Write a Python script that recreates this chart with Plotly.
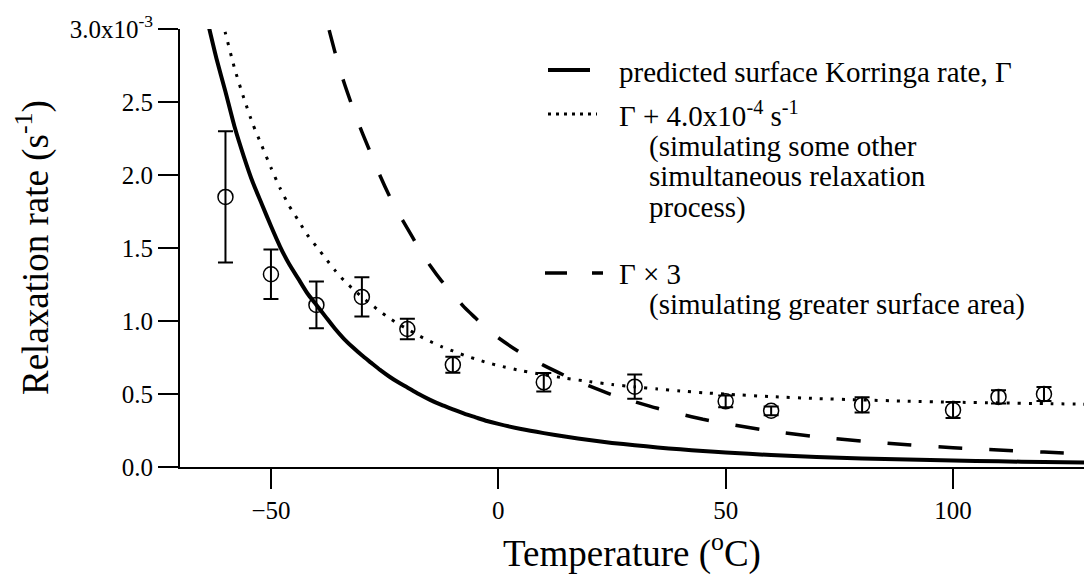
import plotly.graph_objects as go

# ---------------- data (rates in units of 1e-3 s^-1) ----------------
temp_meas = [-60, -50, -40, -30, -20, -10, 10, 30, 50, 60, 80, 100, 110, 120]
rate_meas = [1.85, 1.32, 1.11, 1.165, 0.945, 0.70, 0.58, 0.55, 0.45, 0.385, 0.425, 0.39, 0.48, 0.50]
rate_err = [0.45, 0.17, 0.16, 0.135, 0.07, 0.055, 0.063, 0.083, 0.04, 0.03, 0.052, 0.055, 0.045, 0.048]

temp_gamma = [-64, -62, -60, -58, -56, -54, -52, -50, -48, -46, -44, -42, -40, -38, -36, -34,
              -32, -30, -28, -26, -24, -22, -20, -17.5, -15, -12.5, -10, -7.5, -5, -2.5, 0,
              5, 10, 15, 20, 25, 30, 35, 40, 45, 50, 60, 70, 80, 90, 100, 110, 120, 130]
gamma = [3.06, 2.80, 2.57, 2.33, 2.13, 1.95, 1.80, 1.65, 1.51, 1.39, 1.29, 1.19, 1.11, 1.03,
         0.95, 0.88, 0.82, 0.765, 0.715, 0.665, 0.62, 0.58, 0.545, 0.50, 0.46, 0.425, 0.395,
         0.365, 0.34, 0.315, 0.295, 0.26, 0.232, 0.207, 0.185, 0.165, 0.149, 0.134, 0.121,
         0.109, 0.099, 0.082, 0.069, 0.059, 0.051, 0.044, 0.039, 0.034, 0.030]

temp_plus = [-62, -60, -58, -56, -54, -52, -50, -48, -46, -44, -42, -40, -38, -36, -34, -32,
             -30, -28, -26, -24, -22, -20, -17.5, -15, -12.5, -10, -7.5, -5, -2.5, 0, 5, 10,
             15, 20, 25, 30, 35, 40, 45, 50, 60, 70, 80, 90, 100, 110, 120, 130]
gamma_plus = [3.20, 2.97, 2.73, 2.53, 2.35, 2.20, 2.05, 1.91, 1.79, 1.69, 1.59, 1.51, 1.43,
              1.35, 1.28, 1.22, 1.165, 1.115, 1.065, 1.02, 0.98, 0.945, 0.90, 0.86, 0.825,
              0.795, 0.765, 0.74, 0.715, 0.695, 0.66, 0.632, 0.607, 0.585, 0.565, 0.549,
              0.534, 0.521, 0.509, 0.499, 0.482, 0.469, 0.459, 0.451, 0.444, 0.439, 0.434, 0.43]

temp_times3 = [-40, -38, -36, -34, -32, -30, -28, -26, -24, -22, -20, -17.5, -15, -12.5, -10,
               -7.5, -5, -2.5, 0, 5, 10, 15, 20, 25, 30, 35, 40, 45, 50, 60, 70, 80, 90, 100,
               110, 120, 130]
gamma_times3 = [3.33, 3.09, 2.85, 2.64, 2.46, 2.295, 2.145, 1.995, 1.86, 1.74, 1.635, 1.50,
                1.38, 1.275, 1.185, 1.095, 1.02, 0.945, 0.885, 0.78, 0.696, 0.621, 0.555,
                0.495, 0.447, 0.402, 0.363, 0.327, 0.297, 0.246, 0.207, 0.177, 0.153, 0.132,
                0.117, 0.102, 0.09]

x_ticks = [-50, 0, 50, 100]
y_ticks = [0.0, 0.5, 1.0, 1.5, 2.0, 2.5, 3.0]
y_ticktext = ["0.0", "0.5", "1.0", "1.5", "2.0", "2.5", "3.0x10<sup>-3</sup>"]

# ---------------- layout geometry ----------------
W, H = 1084, 575
ML, MR, MT, MB = 180, 0, 29, 108
PW, PH = W - ML - MR, H - MT - MB
FONT = "Liberation Serif"


def px_x(px):
    return (px - ML) / PW


def px_y(py):
    return (H - MB - py) / PH


fig = go.Figure()

fig.add_trace(go.Scatter(x=temp_gamma, y=gamma, mode="lines", line=dict(color="black", width=4, shape="spline", smoothing=0.6),
                         showlegend=False, hoverinfo="skip"))
fig.add_trace(go.Scatter(x=temp_plus, y=gamma_plus, mode="lines",
                         line=dict(color="black", width=3, dash="3px,8px", shape="spline", smoothing=0.6),
                         showlegend=False, hoverinfo="skip"))
fig.add_trace(go.Scatter(x=temp_times3, y=gamma_times3, mode="lines",
                         line=dict(color="black", width=3.5, dash="24px,27px", shape="spline", smoothing=0.6),
                         showlegend=False, hoverinfo="skip"))
fig.add_trace(go.Scatter(x=temp_meas, y=rate_meas, mode="markers",
                         marker=dict(symbol="circle-open", size=15, color="black", line=dict(color="black", width=1.5)),
                         error_y=dict(type="data", array=rate_err, visible=True, color="black", thickness=2, width=7.5),
                         showlegend=False))

# ---------------- legend (drawn manually) ----------------
shapes = [
    dict(type="line", xref="paper", yref="paper", x0=px_x(548), x1=px_x(590), y0=px_y(70), y1=px_y(70),
         line=dict(color="black", width=4)),
    dict(type="line", xref="paper", yref="paper", x0=px_x(548), x1=px_x(597), y0=px_y(114), y1=px_y(114),
         line=dict(color="black", width=3, dash="3px,5px")),
    dict(type="line", xref="paper", yref="paper", x0=px_x(545), x1=px_x(603), y0=px_y(273), y1=px_y(273),
         line=dict(color="black", width=3.5, dash="22px,25px")),
]

legend_lines = [
    ("predicted surface Korringa rate, \u0393", 617, 72),
    ("\u0393 + 4.0x10<sup>-4</sup> s<sup>-1</sup>", 617, 114),
    ("(simulating some other", 646.7, 146),
    ("simultaneous relaxation", 646.7, 176),
    ("process)", 646.7, 207),
    ("\u0393 \u00d7 3", 617, 274),
    ("(simulating greater surface area)", 646.7, 304),
]
annotations = []
for txt, lx, ly in legend_lines:
    annotations.append(dict(text=txt, xref="paper", yref="paper", x=px_x(lx), y=px_y(ly),
                            xanchor="left", yanchor="middle", showarrow=False,
                            font=dict(family=FONT, size=29, color="black")))

# axis titles
annotations.append(dict(text="Temperature (<sup>o</sup>C)", xref="paper", yref="paper",
                        x=px_x(632), y=px_y(551), xanchor="center", yanchor="middle", showarrow=False,
                        font=dict(family=FONT, size=37, color="black")))
annotations.append(dict(text="Relaxation rate (s<sup>-1</sup>)", xref="paper", yref="paper",
                        x=px_x(33), y=px_y(248), xanchor="center", yanchor="middle", showarrow=False,
                        textangle=-90, font=dict(family=FONT, size=37, color="black")))

axis_common = dict(showline=True, linecolor="black", linewidth=2, ticks="outside", ticklen=20, tickwidth=2,
                   tickcolor="black", showgrid=False, zeroline=False,
                   tickfont=dict(family=FONT, size=25, color="black"))

fig.update_layout(
    width=W, height=H,
    margin=dict(l=ML, r=MR, t=MT, b=MB, pad=0),
    paper_bgcolor="white", plot_bgcolor="white",
    xaxis=dict(range=[-70, 128.8], tickvals=x_ticks, **axis_common),
    yaxis=dict(range=[0, 3.0], tickvals=y_ticks, ticktext=y_ticktext, **axis_common),
    shapes=shapes, annotations=annotations,
    showlegend=False,
)

fig.write_html("out.html")
